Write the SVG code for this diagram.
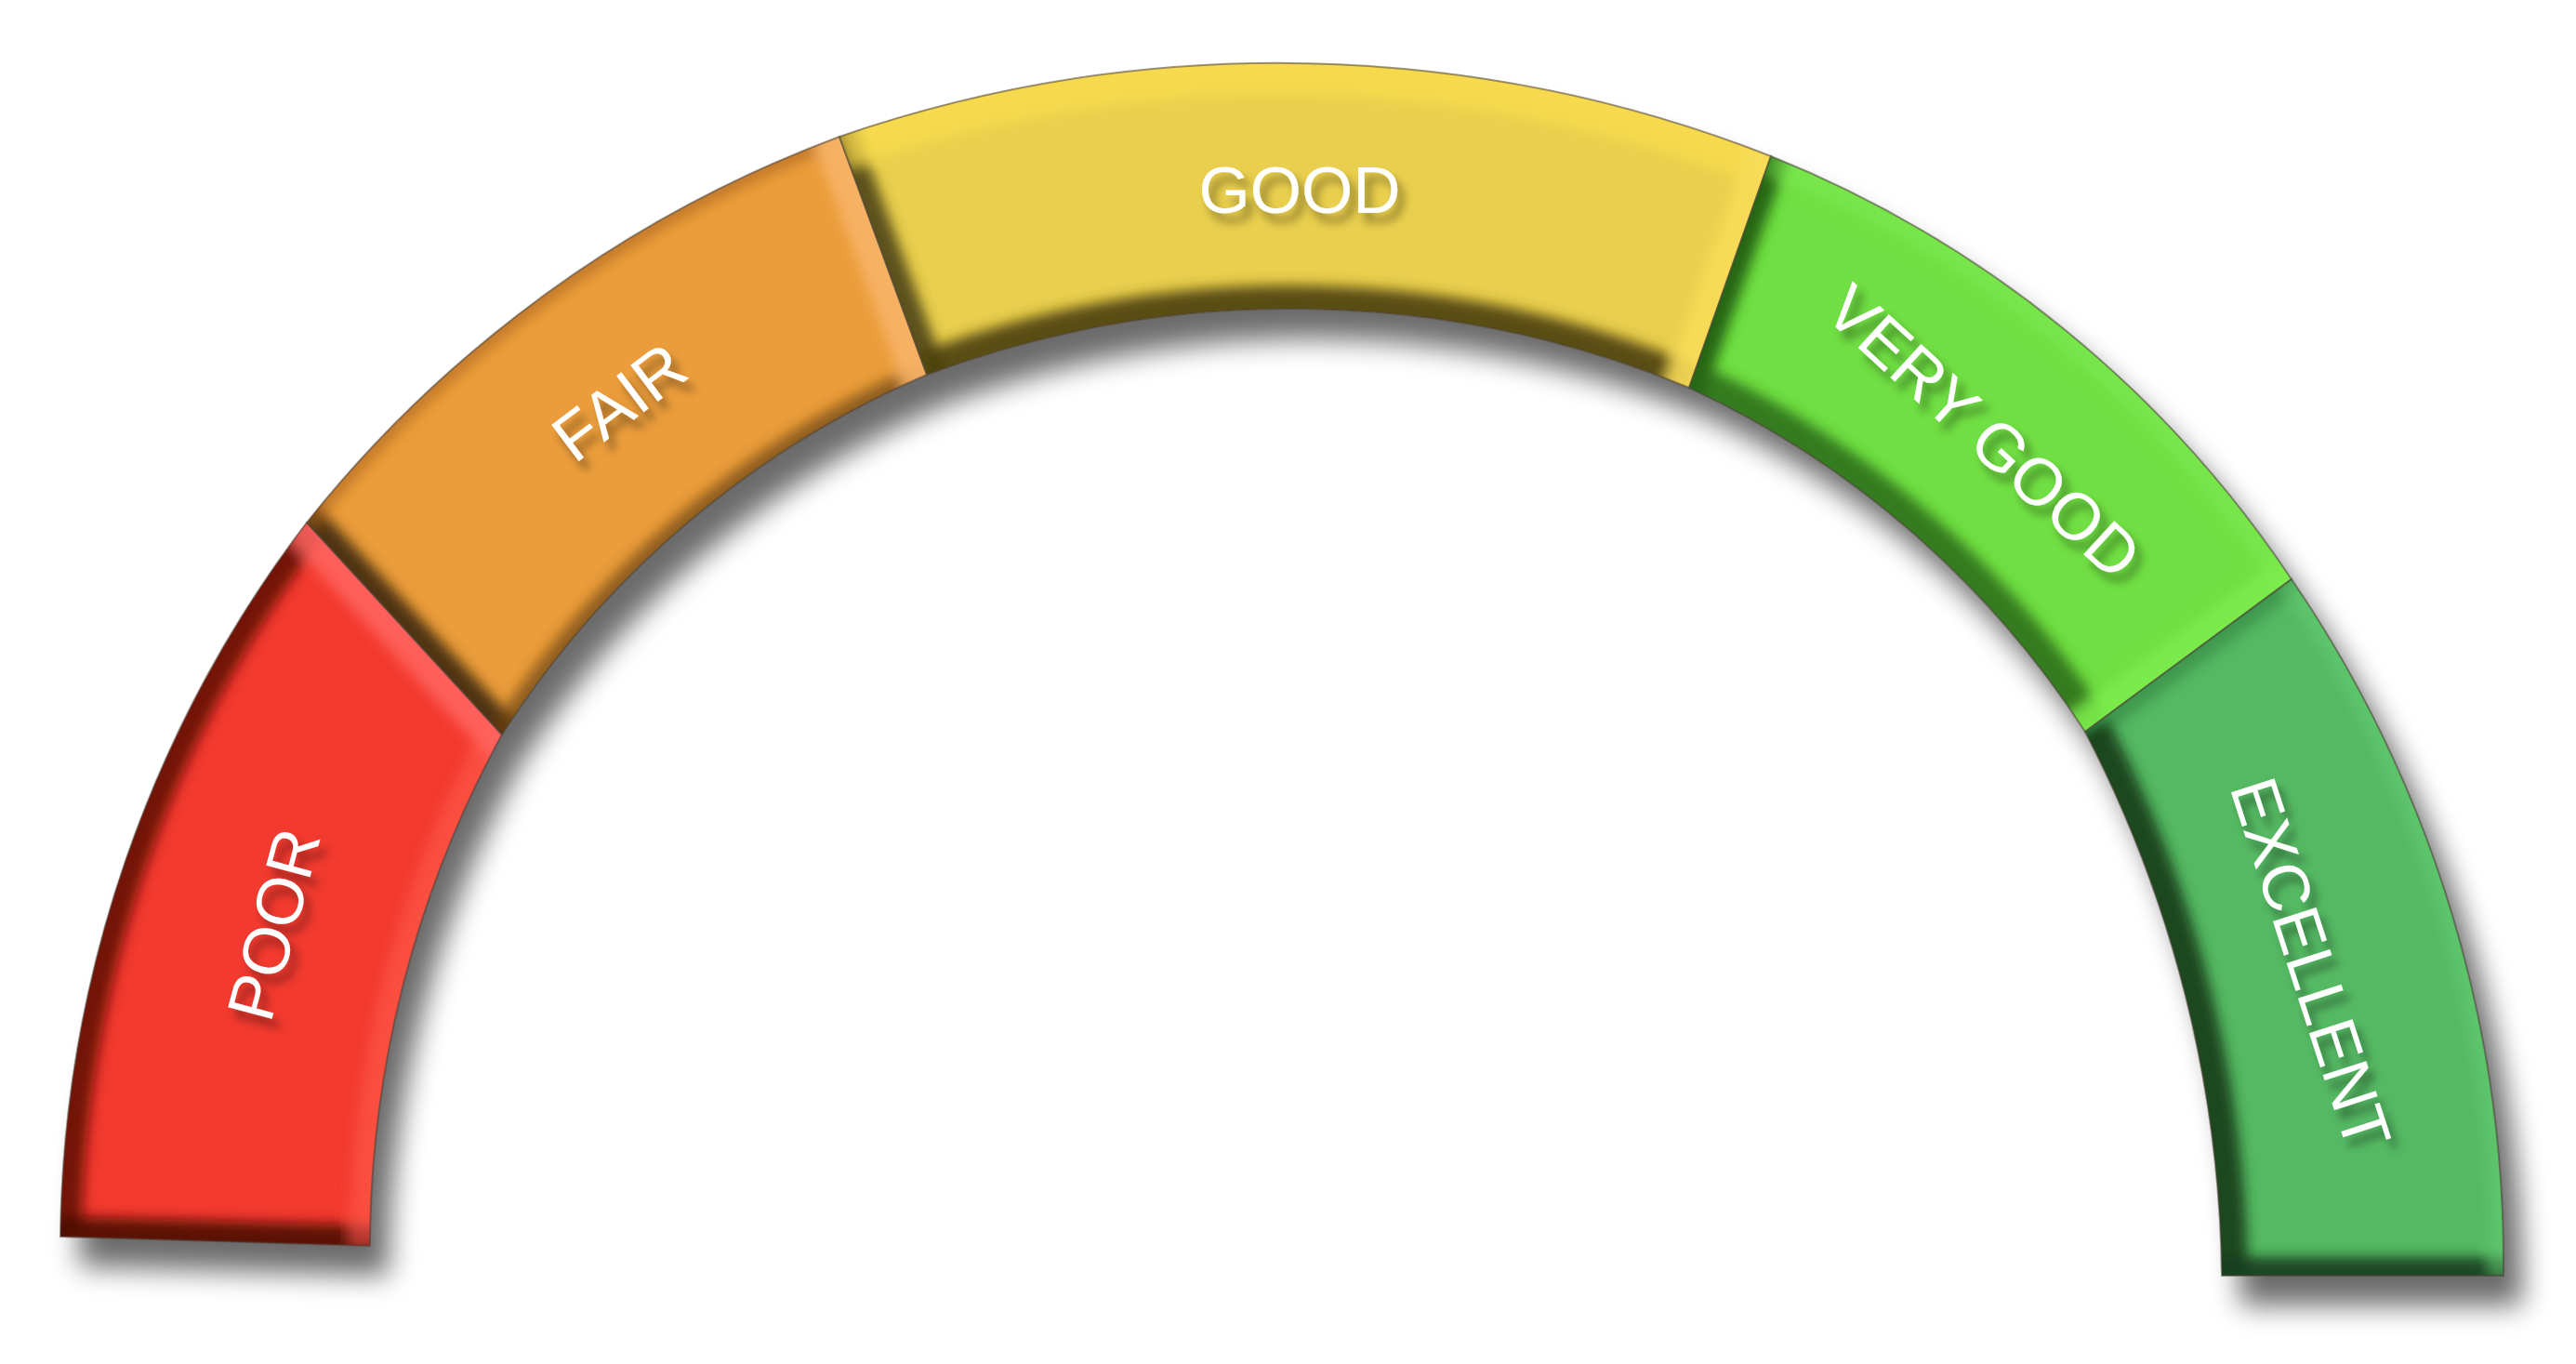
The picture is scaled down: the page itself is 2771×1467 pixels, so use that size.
<svg xmlns="http://www.w3.org/2000/svg" xmlns:xlink="http://www.w3.org/1999/xlink" width="2771" height="1467" viewBox="0 0 2771 1467">
  <style>
    .lbl { font-family: "Liberation Sans", Arial, sans-serif; font-weight: 400; font-size: 71px; fill: #ffffff; text-anchor: middle; }
    .outline { fill: none; stroke: #4a4036; stroke-opacity: 0.55; stroke-width: 2; }
    .bv { fill: none; stroke-linecap: butt; }
  </style>
  <defs>
    <path id="p1" d="M 65 1330 A 1290 1290 0 0 1 330 562 L 540 790 A 1150 1150 0 0 0 398 1340 Z"/>
    <path id="p2" d="M 330 562 A 1320 1320 0 0 1 903 147 L 997 403 A 1020 1020 0 0 0 540 790 Z"/>
    <path id="p3" d="M 903 147 A 1450 1450 0 0 1 1905 168 L 1817 417 A 1120 1120 0 0 0 997 403 Z"/>
    <path id="p4" d="M 1905 168 A 1220 1220 0 0 1 2465 623 L 2243 787 A 1015 1015 0 0 0 1817 417 Z"/>
    <path id="p5" d="M 2465 623 A 1300 1300 0 0 1 2693 1372 L 2390 1372 A 1300 1300 0 0 0 2243 787 Z"/>
    <clipPath id="c1"><use xlink:href="#p1"/></clipPath>
    <clipPath id="c2"><use xlink:href="#p2"/></clipPath>
    <clipPath id="c3"><use xlink:href="#p3"/></clipPath>
    <clipPath id="c4"><use xlink:href="#p4"/></clipPath>
    <clipPath id="c5"><use xlink:href="#p5"/></clipPath>
    <filter id="sh" x="-10%" y="-10%" width="120%" height="130%">
      <feGaussianBlur stdDeviation="15"/>
    </filter>
    <filter id="bv" x="-15%" y="-15%" width="130%" height="130%">
      <feGaussianBlur stdDeviation="7"/>
    </filter>
    <filter id="ts" x="-20%" y="-20%" width="140%" height="140%">
      <feGaussianBlur in="SourceAlpha" stdDeviation="5"/>
      <feOffset dx="7" dy="10" result="b"/>
      <feFlood flood-color="#000000" flood-opacity="0.38"/>
      <feComposite in2="b" operator="in"/>
      <feMerge><feMergeNode/><feMergeNode in="SourceGraphic"/></feMerge>
    </filter>
  </defs>

  <rect width="2771" height="1467" fill="#ffffff"/>

  <g id="shadow" transform="translate(20,32)" filter="url(#sh)" fill="#000000" opacity="0.58">
    <use xlink:href="#p1"/><use xlink:href="#p2"/><use xlink:href="#p3"/><use xlink:href="#p4"/><use xlink:href="#p5"/>
  </g>

  <g id="node-poor">
    <use xlink:href="#p1" fill="#f33a2f"/>
    <g clip-path="url(#c1)">
      <g filter="url(#bv)">
        <path class="bv" d="M 65 1330 A 1290 1290 0 0 1 330 562" stroke="#5c0c06" stroke-width="46" opacity="0.85"/>
        <path class="bv" d="M 20 1329 L 440 1341" stroke="#4a0905" stroke-width="44" opacity="0.9"/>
        <path class="bv" d="M 540 790 A 1150 1150 0 0 0 398 1340" stroke="#ff5a4c" stroke-width="44" opacity="0.6"/>
        <path class="bv" d="M 300 529 L 570 823" stroke="#ff6660" stroke-width="54" opacity="0.85"/>
      </g>
    </g>
    <use xlink:href="#p1" class="outline"/>
    <g filter="url(#ts)">
      <text class="lbl" transform="translate(294,994) rotate(-75)" x="0" y="25">POOR</text>
    </g>
  </g>

  <g id="node-fair">
    <use xlink:href="#p2" fill="#eb9d3b"/>
    <g clip-path="url(#c2)">
      <g filter="url(#bv)">
        <path class="bv" d="M 570 823 L 300 529" stroke="#3e2808" stroke-width="40" opacity="0.9"/>
        <path class="bv" d="M 330 562 A 1320 1320 0 0 1 903 147" stroke="#a8641c" stroke-width="20" opacity="0.6"/>
        <path class="bv" d="M 997 403 A 1020 1020 0 0 0 540 790" stroke="#6a4210" stroke-width="26" opacity="0.7"/>
        <path class="bv" d="M 887 105 L 1013 445" stroke="#f8b468" stroke-width="56" opacity="0.9"/>
      </g>
    </g>
    <use xlink:href="#p2" class="outline"/>
    <g filter="url(#ts)">
      <text class="lbl" transform="translate(666,432) rotate(-37)" x="0" y="25">FAIR</text>
    </g>
  </g>

  <g id="node-good">
    <use xlink:href="#p3" fill="#e9cf4d"/>
    <g clip-path="url(#c3)">
      <g filter="url(#bv)">
        <path class="bv" d="M 1013 445 L 887 105" stroke="#4e4416" stroke-width="40" opacity="0.9"/>
        <path class="bv" d="M 903 147 A 1450 1450 0 0 1 1905 168" stroke="#fadc4e" stroke-width="70" opacity="0.75"/>
        <path class="bv" d="M 1817 417 A 1120 1120 0 0 0 997 403" stroke="#4a3f10" stroke-width="50" opacity="0.9"/>
        <path class="bv" d="M 1920 126 L 1802 459" stroke="#f8dc58" stroke-width="54" opacity="0.9"/>
      </g>
    </g>
    <use xlink:href="#p3" class="outline"/>
    <g filter="url(#ts)">
      <text class="lbl" x="1398" y="229">GOOD</text>
    </g>
  </g>

  <g id="node-very-good">
    <use xlink:href="#p4" fill="#70df43"/>
    <g clip-path="url(#c4)">
      <g filter="url(#bv)">
        <path class="bv" d="M 1802 459 L 1920 126" stroke="#1f5a10" stroke-width="36" opacity="0.9"/>
        <path class="bv" d="M 2243 787 A 1015 1015 0 0 0 1817 417" stroke="#2a6a14" stroke-width="56" opacity="0.85"/>
        <path class="bv" d="M 1905 168 A 1220 1220 0 0 1 2465 623" stroke="#80ee52" stroke-width="40" opacity="0.5"/>
        <path class="bv" d="M 2501 596 L 2207 814" stroke="#7cec4e" stroke-width="50" opacity="0.9"/>
      </g>
    </g>
    <use xlink:href="#p4" class="outline"/>
    <g filter="url(#ts)">
      <text class="lbl" transform="translate(2134,464) rotate(42.5)" x="0" y="25">VERY GOOD</text>
    </g>
  </g>

  <g id="node-excellent">
    <use xlink:href="#p5" fill="#55b963"/>
    <g clip-path="url(#c5)">
      <g filter="url(#bv)">
        <path class="bv" d="M 2207 814 L 2501 596" stroke="#2e7a3a" stroke-width="30" opacity="0.5"/>
        <path class="bv" d="M 2390 1372 A 1300 1300 0 0 0 2243 787" stroke="#143a18" stroke-width="56" opacity="0.9"/>
        <path class="bv" d="M 2350 1372 L 2730 1372" stroke="#1a3a1c" stroke-width="40" opacity="0.9"/>
        <path class="bv" d="M 2465 623 A 1300 1300 0 0 1 2693 1372" stroke="#62cc70" stroke-width="30" opacity="0.6"/>
      </g>
    </g>
    <use xlink:href="#p5" class="outline"/>
    <g filter="url(#ts)">
      <text class="lbl" transform="translate(2486,1036) rotate(72)" x="0" y="25">EXCELLENT</text>
    </g>
  </g>

  <g id="connectors"/>
</svg>
